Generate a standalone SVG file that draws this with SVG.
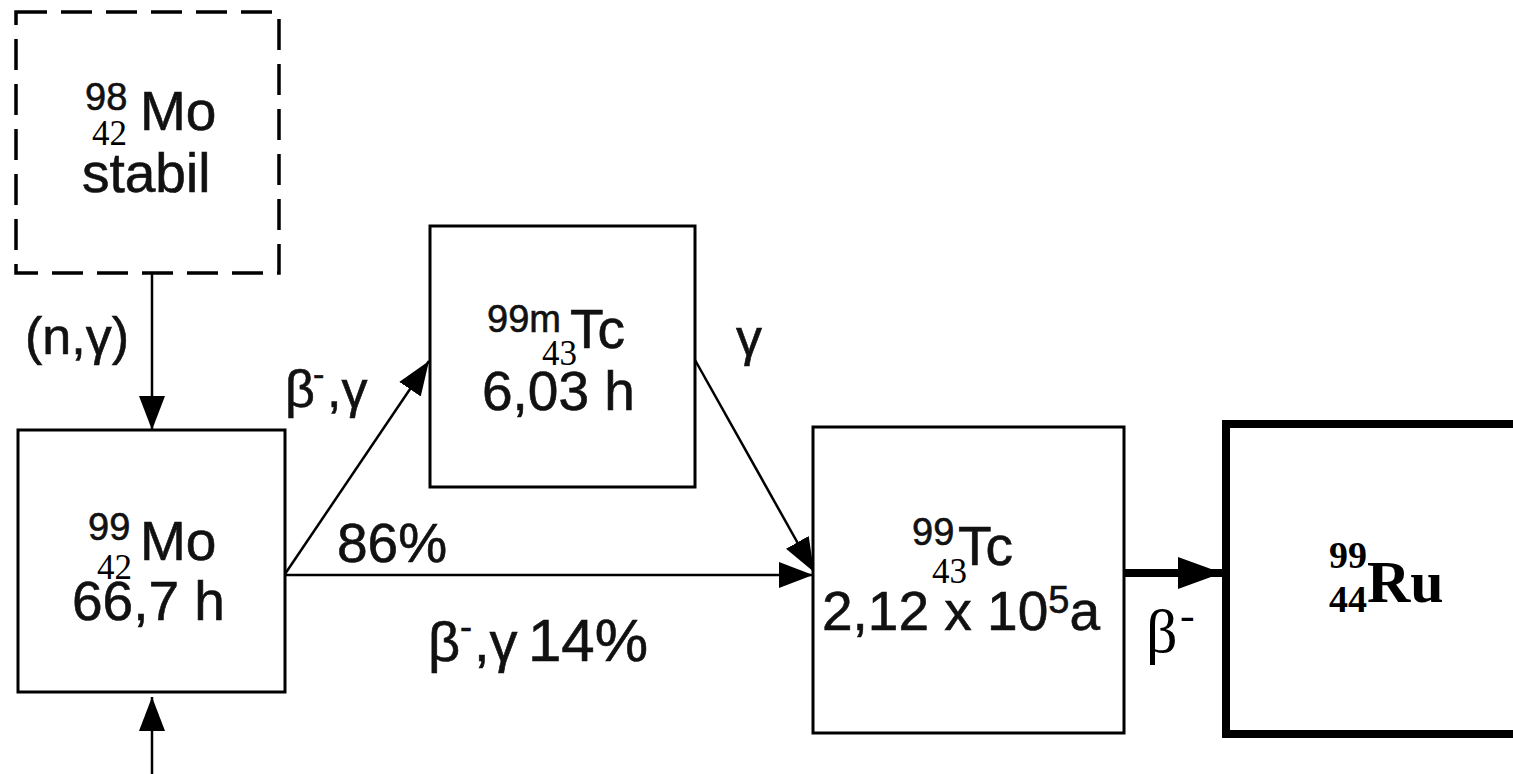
<svg xmlns="http://www.w3.org/2000/svg" width="1513" height="774" viewBox="0 0 1513 774">
  <style>
    .box { fill: #fff; stroke: #000; stroke-width: 3; }
    .dash { fill: #fff; stroke: #000; stroke-width: 3.5; stroke-dasharray: 31 14; }
    .heavy { fill: #fff; stroke: #000; stroke-width: 8; }
    .s { font-family: "Liberation Sans", Arial, sans-serif; fill: #111; stroke: #111; stroke-width: 0.6; }
    .r { font-family: "Liberation Serif", "Times New Roman", serif; fill: #000; stroke: none; }
    .big { font-size: 55px; }
    .sup { font-size: 38px; }
    .sub { font-size: 35px; }
    .lbl { font-size: 52px; }
    .conn { stroke: #000; stroke-width: 2.5; fill: none; }
    .conn-thick { stroke: #000; stroke-width: 8; fill: none; }
  </style>
  <defs>
    <marker id="ah" markerUnits="userSpaceOnUse" markerWidth="34" markerHeight="26" refX="34" refY="13" orient="auto">
      <path d="M0,0 L34,13 L0,26 z" fill="#000"/>
    </marker>
    <marker id="ahBig" markerUnits="userSpaceOnUse" markerWidth="44" markerHeight="32" refX="44" refY="16" orient="auto">
      <path d="M0,0 L44,16 L0,32 z" fill="#000"/>
    </marker>
  </defs>
  <rect width="1513" height="774" fill="#fff"/>

  <g id="connectors">
    <line class="conn" x1="152" y1="274" x2="152" y2="430" marker-end="url(#ah)"/>
    <line class="conn" x1="152" y1="774" x2="152" y2="697" marker-end="url(#ah)"/>
    <line class="conn" x1="285" y1="574" x2="429" y2="361" marker-end="url(#ah)"/>
    <line class="conn" x1="285" y1="575" x2="813" y2="575" marker-end="url(#ah)"/>
    <line class="conn" x1="695" y1="360" x2="814" y2="572" marker-end="url(#ah)"/>
    <line class="conn-thick" x1="1124" y1="573" x2="1222" y2="573" marker-end="url(#ahBig)"/>
  </g>

  <g id="labels">
    <text class="s lbl" x="25" y="354">(n,γ)</text>
    <text class="s lbl" x="285" y="407">β<tspan font-size="34" x="313" y="386">-</tspan><tspan x="327" y="407">,γ</tspan></text>
    <text class="s lbl" x="736" y="355">γ</text>
    <text class="s big" x="337" y="562">86%</text>
    <text class="s" font-size="56" x="428" y="661">β<tspan font-size="36" x="460" y="639">-</tspan><tspan x="474" y="661">,γ</tspan><tspan font-size="60" x="528" y="661">14%</tspan></text>
    <text class="r" font-size="62" x="1146" y="652">β<tspan font-size="44" x="1180" y="630">-</tspan></text>
  </g>

  <g id="node-mo98">
    <rect class="dash" x="16" y="12" width="263" height="261"/>
    <text class="s big" x="85" y="110"><tspan class="sup" x="85" y="110">98</tspan><tspan x="140" y="130">Mo</tspan><tspan class="r sub" x="92" y="145">42</tspan><tspan x="82" y="192">stabil</tspan></text>
  </g>

  <g id="node-mo99">
    <rect class="box" x="18" y="430" width="267" height="262"/>
    <text class="s big" x="88" y="540"><tspan class="sup" x="88" y="540">99</tspan><tspan x="140" y="560">Mo</tspan><tspan class="r sub" x="97" y="579">42</tspan><tspan x="72" y="620">66,7 h</tspan></text>
  </g>

  <g id="node-tc99m">
    <rect class="box" x="430" y="226" width="265" height="261"/>
    <text class="s big" x="487" y="332"><tspan class="sup" x="487" y="332">99m</tspan><tspan x="570" y="348">Tc</tspan><tspan class="r sub" x="542" y="365">43</tspan><tspan x="482" y="410">6,03 h</tspan></text>
  </g>

  <g id="node-tc99">
    <rect class="box" x="813" y="427" width="311" height="306"/>
    <text class="s big" x="912" y="545"><tspan class="sup" x="912" y="545">99</tspan><tspan x="958" y="565">Tc</tspan><tspan class="r sub" x="932" y="583">43</tspan><tspan x="822" y="630">2,12 x 10</tspan><tspan class="sup" dy="-17">5</tspan><tspan dy="17">a</tspan></text>
  </g>

  <g id="node-ru99">
    <rect class="heavy" x="1226" y="424" width="400" height="310"/>
    <text class="r" font-weight="bold" font-size="60" x="1329" y="568"><tspan font-size="38" x="1329" y="568">99</tspan><tspan font-size="38" x="1329" y="612">44</tspan><tspan x="1367" y="602">Ru</tspan></text>
  </g>
</svg>
